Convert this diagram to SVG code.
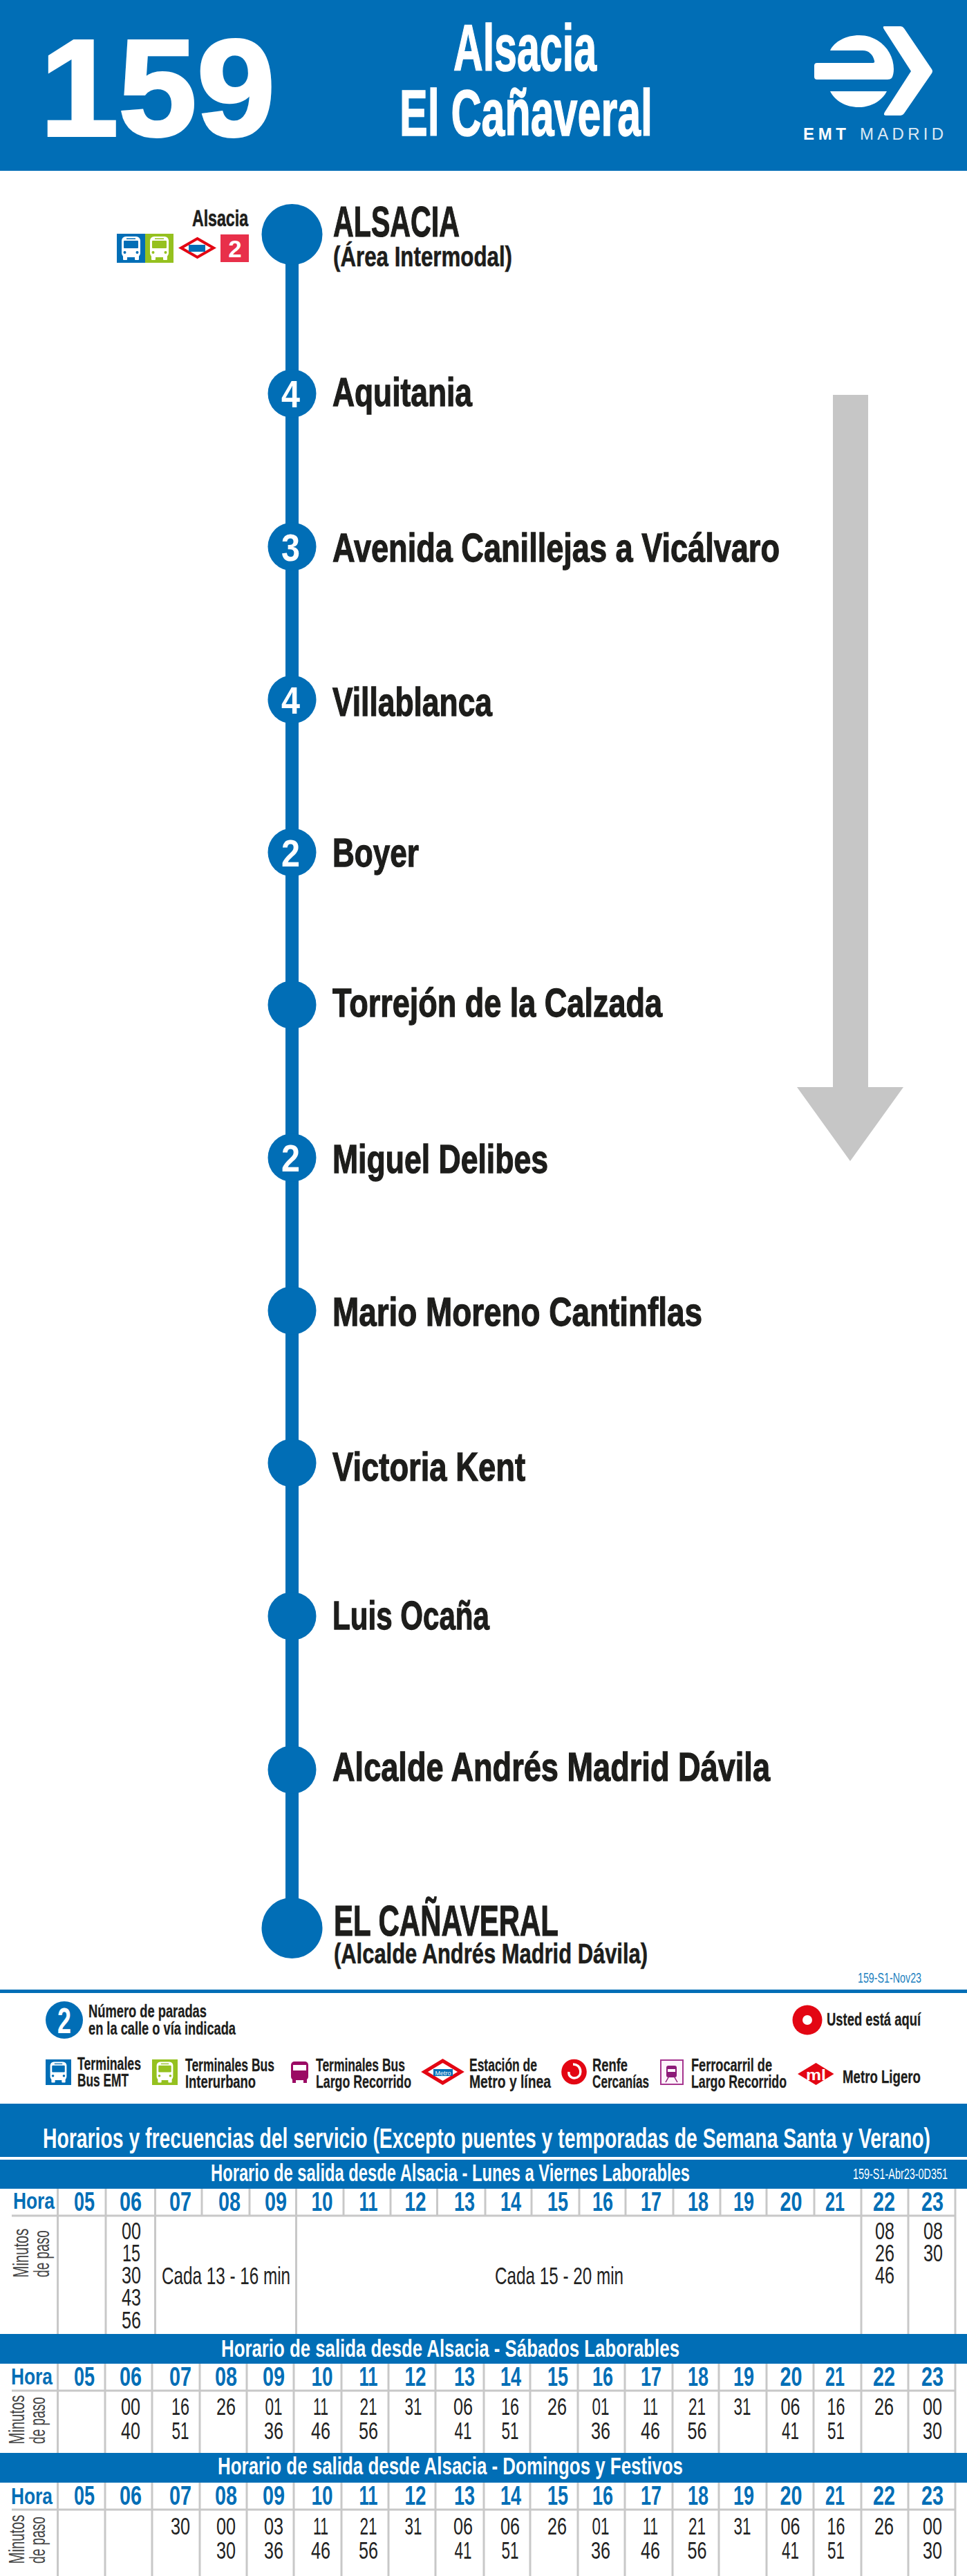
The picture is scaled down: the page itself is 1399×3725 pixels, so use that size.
<svg xmlns="http://www.w3.org/2000/svg" width="1399" height="3725" viewBox="0 0 1399 3725">
<style>
text{font-family:"Liberation Sans",Arial,sans-serif}
.b{font-weight:700}
.w{fill:#fff}
.k{fill:#1d1d1b}
.blue{fill:#016eb6}
.hvy{stroke:#1d1d1b;stroke-width:1.2px}
.hvyw{stroke:#fff;stroke-width:1.5px}
.st{font-weight:700;font-size:58px;fill:#1d1d1b;stroke:#1d1d1b;stroke-width:1.3px}
.n{font-weight:700;font-size:56px;fill:#fff;text-anchor:middle}
.lg{font-weight:700;font-size:25px;fill:#1d1d1b;stroke:#1d1d1b;stroke-width:.3px}
.band{font-weight:700;font-size:35px;fill:#fff}
.h{font-weight:700;font-size:38px;fill:#016eb6;text-anchor:middle}
.hora{font-weight:700;font-size:34px;fill:#016eb6}
.m{font-size:35px;fill:#222;text-anchor:middle}
.c{font-size:35px;fill:#222}
.mp{font-size:32px;fill:#444;text-anchor:middle}
.grid line{stroke:#c8c8c8;stroke-width:3}
.node{fill:#016eb6}
</style>
<defs>
<symbol id="bus" viewBox="0 0 41 42">
<rect x="7" y="4" width="27" height="30" rx="6" fill="#fff"/>
<rect x="9" y="30" width="6" height="8" rx="1" fill="#fff"/>
<rect x="26" y="30" width="6" height="8" rx="1" fill="#fff"/>
<rect x="10" y="10" width="21" height="11" rx="1" fill="currentColor"/>
<rect x="14" y="6.5" width="13" height="1.5" fill="currentColor"/>
<circle cx="11.5" cy="27" r="2" fill="currentColor"/>
<circle cx="29.5" cy="27" r="2" fill="currentColor"/>
</symbol>
</defs>
<rect width="1399" height="3725" fill="#fff"/>

<g id="header">
<rect width="1399" height="247" fill="#016eb6"/>
<text class="b w hvyw" x="58" y="196" font-size="198" textLength="340" lengthAdjust="spacingAndGlyphs" style="stroke-width:4px">159</text>
<text class="b w hvyw" x="656" y="102" font-size="95" textLength="207" lengthAdjust="spacingAndGlyphs">Alsacia</text>
<text class="b w hvyw" x="578" y="196" font-size="95" textLength="366" lengthAdjust="spacingAndGlyphs">El Cañaveral</text>
<g id="logo" fill="#fff">
<path d="M1279 38H1303Q1306 38 1308 41L1348 100Q1350 103 1348 106L1308 164Q1306 167 1303 167H1282Q1277 167 1280 162L1318 103L1280 44Q1276 38 1279 38Z"/>
<path d="M1201 73C1207 60 1224 51 1243 51C1271 51 1293 73 1293 100C1293 105 1292 110 1290 113Q1288 115 1284 115H1182Q1178 115 1178 111V95Q1178 91 1182 91H1263Q1266 91 1265 88C1263 79 1257 73 1248 73Z"/>
<path d="M1201 132H1283C1276 146 1260 155 1242 155C1224 155 1208 146 1201 132Z"/>
<text class="b w" x="1162" y="202" font-size="24" textLength="62" lengthAdjust="spacing">EMT</text>
<text class="w" x="1244" y="202" font-size="24" textLength="121" lengthAdjust="spacing" opacity=".85">MADRID</text>
</g>
</g>

<g id="connectors">
<line x1="422.5" y1="339" x2="422.5" y2="2788" stroke="#016eb6" stroke-width="19"/>
</g>

<g id="direction-arrow">
<polygon points="1205,571 1256,571 1256,1572 1307,1572 1230,1679 1153,1572 1205,1572" fill="#c6c6c6"/>
</g>

<g id="stop-alsacia">
<circle class="node" cx="422.5" cy="339" r="44"/>
<text class="b k hvy" x="482" y="342" font-size="63" textLength="183" lengthAdjust="spacingAndGlyphs">ALSACIA</text>
<text class="b k hvy" x="482" y="385" font-size="41" textLength="259" lengthAdjust="spacingAndGlyphs" style="stroke-width:.6px">(Área Intermodal)</text>
<text class="b k hvy" x="278" y="327" font-size="33" textLength="81" lengthAdjust="spacingAndGlyphs" style="stroke-width:.6px">Alsacia</text>
<rect x="169" y="338" width="41" height="42" fill="#016eb6"/>
<use href="#bus" x="169" y="338" width="41" height="42" style="color:#016eb6"/>
<rect x="210" y="338" width="41" height="42" fill="#95c11f"/>
<use href="#bus" x="210" y="338" width="41" height="42" style="color:#95c11f"/>
<polygon points="285.5,345 309,358.5 285.5,372 262,358.5" fill="#fff" stroke="#e30613" stroke-width="4"/>
<rect x="273" y="354" width="24" height="10" fill="#016eb6"/>
<rect x="319" y="339" width="41" height="40" fill="#e8304a"/>
<text class="b w" x="340" y="372" font-size="35" text-anchor="middle">2</text>
</g>

<g id="stop-aquitania"><circle class="node" cx="422.5" cy="569" r="35"/><text class="n" x="420.5" y="589" textLength="27" lengthAdjust="spacingAndGlyphs">4</text><text class="st" x="481" y="587" textLength="202" lengthAdjust="spacingAndGlyphs">Aquitania</text></g>
<g id="stop-canillejas"><circle class="node" cx="422.5" cy="790.5" r="35"/><text class="n" x="420.5" y="811" textLength="27" lengthAdjust="spacingAndGlyphs">3</text><text class="st" x="481" y="812" textLength="647" lengthAdjust="spacingAndGlyphs">Avenida Canillejas a Vicálvaro</text></g>
<g id="stop-villablanca"><circle class="node" cx="422.5" cy="1011.5" r="35"/><text class="n" x="420.5" y="1032" textLength="27" lengthAdjust="spacingAndGlyphs">4</text><text class="st" x="481" y="1035" textLength="231" lengthAdjust="spacingAndGlyphs">Villablanca</text></g>
<g id="stop-boyer"><circle class="node" cx="422.5" cy="1232.5" r="35"/><text class="n" x="420.5" y="1253" textLength="27" lengthAdjust="spacingAndGlyphs">2</text><text class="st" x="481" y="1253" textLength="125" lengthAdjust="spacingAndGlyphs">Boyer</text></g>
<g id="stop-torrejon"><circle class="node" cx="422.5" cy="1453" r="35"/><text class="st" x="481" y="1470" textLength="477" lengthAdjust="spacingAndGlyphs">Torrejón de la Calzada</text></g>
<g id="stop-delibes"><circle class="node" cx="422.5" cy="1674" r="35"/><text class="n" x="420.5" y="1694" textLength="27" lengthAdjust="spacingAndGlyphs">2</text><text class="st" x="481" y="1696" textLength="312" lengthAdjust="spacingAndGlyphs">Miguel Delibes</text></g>
<g id="stop-cantinflas"><circle class="node" cx="422.5" cy="1895" r="35"/><text class="st" x="481" y="1917" textLength="535" lengthAdjust="spacingAndGlyphs">Mario Moreno Cantinflas</text></g>
<g id="stop-kent"><circle class="node" cx="422.5" cy="2115.5" r="35"/><text class="st" x="481" y="2141" textLength="279" lengthAdjust="spacingAndGlyphs">Victoria Kent</text></g>
<g id="stop-ocana"><circle class="node" cx="422.5" cy="2337" r="35"/><text class="st" x="481" y="2356" textLength="227" lengthAdjust="spacingAndGlyphs">Luis Ocaña</text></g>
<g id="stop-davila"><circle class="node" cx="422.5" cy="2559" r="35"/><text class="st" x="481" y="2575" textLength="633" lengthAdjust="spacingAndGlyphs">Alcalde Andrés Madrid Dávila</text></g>
<g id="stop-canaveral">
<circle class="node" cx="422.5" cy="2788" r="44"/>
<text class="b k hvy" x="483" y="2799" font-size="63" textLength="325" lengthAdjust="spacingAndGlyphs">EL CAÑAVERAL</text>
<text class="b k hvy" x="483" y="2839" font-size="41" textLength="454" lengthAdjust="spacingAndGlyphs" style="stroke-width:.6px">(Alcalde Andrés Madrid Dávila)</text>
</g>

<g id="legend">
<text x="1241" y="2867" font-size="21" fill="#1b7fc0" textLength="92" lengthAdjust="spacingAndGlyphs">159-S1-Nov23</text>
<rect y="2877" width="1399" height="5" fill="#016eb6"/>
<circle class="node" cx="93" cy="2921" r="27"/>
<text class="b w" x="93" y="2940" font-size="52" text-anchor="middle" textLength="20" lengthAdjust="spacingAndGlyphs">2</text>
<text class="lg" x="128" y="2917" textLength="171" lengthAdjust="spacingAndGlyphs">Número de paradas</text>
<text class="lg" x="128" y="2942" textLength="213" lengthAdjust="spacingAndGlyphs">en la calle o vía indicada</text>
<circle cx="1168" cy="2921" r="21.5" fill="#e30613"/><circle cx="1168" cy="2921" r="7" fill="#fff"/>
<text class="lg" x="1196" y="2929" textLength="136" lengthAdjust="spacingAndGlyphs">Usted está aquí</text>

<rect x="66" y="2978" width="37" height="37" fill="#016eb6"/>
<use href="#bus" x="66" y="2978" width="37" height="37" style="color:#016eb6"/>
<text class="lg" x="112" y="2993" textLength="92" lengthAdjust="spacingAndGlyphs">Terminales</text>
<text class="lg" x="112" y="3017" textLength="74" lengthAdjust="spacingAndGlyphs">Bus EMT</text>

<rect x="220" y="2978" width="37" height="37" fill="#95c11f"/>
<use href="#bus" x="220" y="2978" width="37" height="37" style="color:#95c11f"/>
<text class="lg" x="268" y="2995" textLength="129" lengthAdjust="spacingAndGlyphs">Terminales Bus</text>
<text class="lg" x="268" y="3019" textLength="102" lengthAdjust="spacingAndGlyphs">Interurbano</text>

<rect x="421" y="2981" width="25" height="27" rx="5" fill="#9b0a64"/>
<rect x="423" y="3005" width="5" height="7" fill="#9b0a64"/><rect x="439" y="3005" width="5" height="7" fill="#9b0a64"/>
<rect x="424" y="2986" width="19" height="8" fill="#fff"/>
<text class="lg" x="457" y="2995" textLength="129" lengthAdjust="spacingAndGlyphs">Terminales Bus</text>
<text class="lg" x="457" y="3019" textLength="138" lengthAdjust="spacingAndGlyphs">Largo Recorrido</text>

<polygon points="640.5,2980 667,2996 640.5,3012 614,2996" fill="#fff" stroke="#e30613" stroke-width="5"/>
<rect x="627" y="2992" width="28" height="10" fill="#016eb6"/>
<text class="w" x="641" y="3000.5" font-size="9" text-anchor="middle">Metro</text>
<text class="lg" x="679" y="2995" textLength="98" lengthAdjust="spacingAndGlyphs">Estación de</text>
<text class="lg" x="679" y="3019" textLength="118" lengthAdjust="spacingAndGlyphs">Metro y línea</text>

<circle cx="830.5" cy="2996" r="18.3" fill="#e30613"/>
<path d="M829 2985C841 2985 843 3000 835 3004C828 3007 822 3002 823 2996" fill="none" stroke="#fff" stroke-width="3.5"/>
<text class="lg" x="857" y="2995" textLength="51" lengthAdjust="spacingAndGlyphs">Renfe</text>
<text class="lg" x="857" y="3019" textLength="82" lengthAdjust="spacingAndGlyphs">Cercanías</text>

<rect x="956" y="2979" width="32" height="35" fill="#fdf3fa" stroke="#a6358f" stroke-width="2"/>
<rect x="964" y="2987" width="15" height="17" rx="3" fill="#8d1a78"/>
<rect x="966" y="2992" width="11" height="4" fill="#fff"/>
<path d="M967 3004L963 3011M976 3004L980 3011" stroke="#8d1a78" stroke-width="1.5" fill="none"/>
<text class="lg" x="1000" y="2995" textLength="117" lengthAdjust="spacingAndGlyphs">Ferrocarril de</text>
<text class="lg" x="1000" y="3019" textLength="138" lengthAdjust="spacingAndGlyphs">Largo Recorrido</text>

<polygon points="1154,2999 1180.5,2983 1206.5,2999 1180.5,3015" fill="#e30613"/>
<text class="b w" x="1166" y="3008" font-size="22" textLength="29" lengthAdjust="spacingAndGlyphs">ml</text>
<text class="lg" x="1219" y="3012" textLength="113" lengthAdjust="spacingAndGlyphs">Metro Ligero</text>
</g>

<g id="bands">
<rect y="3042" width="1399" height="77" fill="#016eb6"/>
<rect y="3123" width="1399" height="42" fill="#016eb6"/>
<rect y="3375" width="1399" height="43" fill="#016eb6"/>
<rect y="3547" width="1399" height="43" fill="#016eb6"/>
<text class="b w" x="62" y="3106" font-size="40" textLength="1284" lengthAdjust="spacingAndGlyphs">Horarios y frecuencias del servicio (Excepto puentes y temporadas de Semana Santa y Verano)</text>
<text class="band" x="305" y="3154" textLength="693" lengthAdjust="spacingAndGlyphs">Horario de salida desde Alsacia - Lunes a Viernes Laborables</text>
<text class="w" x="1234" y="3151" font-size="22" textLength="137" lengthAdjust="spacingAndGlyphs">159-S1-Abr23-0D351</text>
<text class="band" x="320" y="3408" textLength="663" lengthAdjust="spacingAndGlyphs">Horario de salida desde Alsacia - Sábados Laborables</text>
<text class="band" x="315" y="3578" textLength="673" lengthAdjust="spacingAndGlyphs">Horario de salida desde Alsacia - Domingos y Festivos</text>
</g>

<g id="grid" class="grid">
<line x1="17" y1="3204" x2="1382" y2="3204" stroke-width="3"/>
<line x1="83.5" y1="3165" x2="83.5" y2="3375"/><line x1="153" y1="3165" x2="153" y2="3375"/><line x1="224.5" y1="3165" x2="224.5" y2="3375"/><line x1="292" y1="3165" x2="292" y2="3204"/><line x1="361" y1="3165" x2="361" y2="3204"/><line x1="428.5" y1="3165" x2="428.5" y2="3375"/><line x1="497" y1="3165" x2="497" y2="3204"/><line x1="565" y1="3165" x2="565" y2="3204"/><line x1="632.5" y1="3165" x2="632.5" y2="3204"/><line x1="702" y1="3165" x2="702" y2="3204"/><line x1="769" y1="3165" x2="769" y2="3204"/><line x1="838" y1="3165" x2="838" y2="3204"/><line x1="905" y1="3165" x2="905" y2="3204"/><line x1="974" y1="3165" x2="974" y2="3204"/><line x1="1042" y1="3165" x2="1042" y2="3204"/><line x1="1109" y1="3165" x2="1109" y2="3204"/><line x1="1178" y1="3165" x2="1178" y2="3204"/><line x1="1246" y1="3165" x2="1246" y2="3375"/><line x1="1314" y1="3165" x2="1314" y2="3375"/><line x1="1382" y1="3165" x2="1382" y2="3375"/>

<line x1="17" y1="3457" x2="1382" y2="3457"/>
<line x1="83.5" y1="3418" x2="83.5" y2="3547"/><line x1="152" y1="3418" x2="152" y2="3547"/><line x1="220" y1="3418" x2="220" y2="3547"/><line x1="289" y1="3418" x2="289" y2="3547"/><line x1="357" y1="3418" x2="357" y2="3547"/><line x1="425" y1="3418" x2="425" y2="3547"/><line x1="494" y1="3418" x2="494" y2="3547"/><line x1="562" y1="3418" x2="562" y2="3547"/><line x1="630" y1="3418" x2="630" y2="3547"/><line x1="700" y1="3418" x2="700" y2="3547"/><line x1="767" y1="3418" x2="767" y2="3547"/><line x1="836" y1="3418" x2="836" y2="3547"/><line x1="904" y1="3418" x2="904" y2="3547"/><line x1="973" y1="3418" x2="973" y2="3547"/><line x1="1040" y1="3418" x2="1040" y2="3547"/><line x1="1109" y1="3418" x2="1109" y2="3547"/><line x1="1177" y1="3418" x2="1177" y2="3547"/><line x1="1246" y1="3418" x2="1246" y2="3547"/><line x1="1314" y1="3418" x2="1314" y2="3547"/><line x1="1382" y1="3418" x2="1382" y2="3547"/>

<line x1="17" y1="3629" x2="1382" y2="3629"/>
<line x1="83.5" y1="3590" x2="83.5" y2="3725"/><line x1="152" y1="3590" x2="152" y2="3725"/><line x1="220" y1="3590" x2="220" y2="3725"/><line x1="289" y1="3590" x2="289" y2="3725"/><line x1="357" y1="3590" x2="357" y2="3725"/><line x1="425" y1="3590" x2="425" y2="3725"/><line x1="494" y1="3590" x2="494" y2="3725"/><line x1="562" y1="3590" x2="562" y2="3725"/><line x1="630" y1="3590" x2="630" y2="3725"/><line x1="700" y1="3590" x2="700" y2="3725"/><line x1="767" y1="3590" x2="767" y2="3725"/><line x1="836" y1="3590" x2="836" y2="3725"/><line x1="904" y1="3590" x2="904" y2="3725"/><line x1="973" y1="3590" x2="973" y2="3725"/><line x1="1040" y1="3590" x2="1040" y2="3725"/><line x1="1109" y1="3590" x2="1109" y2="3725"/><line x1="1177" y1="3590" x2="1177" y2="3725"/><line x1="1246" y1="3590" x2="1246" y2="3725"/><line x1="1314" y1="3590" x2="1314" y2="3725"/><line x1="1382" y1="3590" x2="1382" y2="3725"/>
</g>

<g id="timetable-weekdays">
<text class="hora" x="19" y="3194" textLength="60" lengthAdjust="spacingAndGlyphs">Hora</text>
<text class="h" x="122" y="3197" textLength="30" lengthAdjust="spacingAndGlyphs">05</text><text class="h" x="189" y="3197" textLength="32" lengthAdjust="spacingAndGlyphs">06</text><text class="h" x="261" y="3197" textLength="32" lengthAdjust="spacingAndGlyphs">07</text><text class="h" x="332" y="3197" textLength="32" lengthAdjust="spacingAndGlyphs">08</text><text class="h" x="399" y="3197" textLength="32" lengthAdjust="spacingAndGlyphs">09</text><text class="h" x="466" y="3197" textLength="31" lengthAdjust="spacingAndGlyphs">10</text><text class="h" x="533" y="3197" textLength="27" lengthAdjust="spacingAndGlyphs">11</text><text class="h" x="601" y="3197" textLength="31" lengthAdjust="spacingAndGlyphs">12</text><text class="h" x="672" y="3197" textLength="30" lengthAdjust="spacingAndGlyphs">13</text><text class="h" x="739" y="3197" textLength="30" lengthAdjust="spacingAndGlyphs">14</text><text class="h" x="807" y="3197" textLength="30" lengthAdjust="spacingAndGlyphs">15</text><text class="h" x="872" y="3197" textLength="30" lengthAdjust="spacingAndGlyphs">16</text><text class="h" x="942" y="3197" textLength="30" lengthAdjust="spacingAndGlyphs">17</text><text class="h" x="1010" y="3197" textLength="30" lengthAdjust="spacingAndGlyphs">18</text><text class="h" x="1076" y="3197" textLength="30" lengthAdjust="spacingAndGlyphs">19</text><text class="h" x="1144.5" y="3197" textLength="32" lengthAdjust="spacingAndGlyphs">20</text><text class="h" x="1208" y="3197" textLength="28" lengthAdjust="spacingAndGlyphs">21</text><text class="h" x="1279" y="3197" textLength="32" lengthAdjust="spacingAndGlyphs">22</text><text class="h" x="1349" y="3197" textLength="32" lengthAdjust="spacingAndGlyphs">23</text>
<text class="mp" transform="translate(41 3258) rotate(-90)" textLength="71" lengthAdjust="spacingAndGlyphs">Minutos</text>
<text class="mp" transform="translate(71 3259) rotate(-90)" textLength="68" lengthAdjust="spacingAndGlyphs">de paso</text>
<text class="m" x="190" y="3238" textLength="28" lengthAdjust="spacingAndGlyphs">00</text><text class="m" x="190" y="3270" textLength="26" lengthAdjust="spacingAndGlyphs">15</text><text class="m" x="190" y="3302" textLength="28" lengthAdjust="spacingAndGlyphs">30</text><text class="m" x="190" y="3334" textLength="28" lengthAdjust="spacingAndGlyphs">43</text><text class="m" x="190" y="3367" textLength="28" lengthAdjust="spacingAndGlyphs">56</text>
<text class="c" x="234" y="3303" textLength="186" lengthAdjust="spacingAndGlyphs">Cada 13 - 16 min</text>
<text class="c" x="716" y="3303" textLength="186" lengthAdjust="spacingAndGlyphs">Cada 15 - 20 min</text>
<text class="m" x="1280" y="3238" textLength="28" lengthAdjust="spacingAndGlyphs">08</text><text class="m" x="1280" y="3270" textLength="28" lengthAdjust="spacingAndGlyphs">26</text><text class="m" x="1280" y="3302" textLength="28" lengthAdjust="spacingAndGlyphs">46</text>
<text class="m" x="1350" y="3238" textLength="28" lengthAdjust="spacingAndGlyphs">08</text><text class="m" x="1350" y="3270" textLength="28" lengthAdjust="spacingAndGlyphs">30</text>
</g>

<g id="timetable-saturdays">
<text class="hora" x="16" y="3448" textLength="60" lengthAdjust="spacingAndGlyphs">Hora</text>
<text class="h" x="122" y="3450" textLength="30" lengthAdjust="spacingAndGlyphs">05</text><text class="h" x="189" y="3450" textLength="32" lengthAdjust="spacingAndGlyphs">06</text><text class="h" x="261" y="3450" textLength="32" lengthAdjust="spacingAndGlyphs">07</text><text class="h" x="327" y="3450" textLength="32" lengthAdjust="spacingAndGlyphs">08</text><text class="h" x="396" y="3450" textLength="32" lengthAdjust="spacingAndGlyphs">09</text><text class="h" x="466" y="3450" textLength="31" lengthAdjust="spacingAndGlyphs">10</text><text class="h" x="533" y="3450" textLength="27" lengthAdjust="spacingAndGlyphs">11</text><text class="h" x="601" y="3450" textLength="31" lengthAdjust="spacingAndGlyphs">12</text><text class="h" x="672" y="3450" textLength="30" lengthAdjust="spacingAndGlyphs">13</text><text class="h" x="739" y="3450" textLength="30" lengthAdjust="spacingAndGlyphs">14</text><text class="h" x="807" y="3450" textLength="30" lengthAdjust="spacingAndGlyphs">15</text><text class="h" x="872" y="3450" textLength="30" lengthAdjust="spacingAndGlyphs">16</text><text class="h" x="942" y="3450" textLength="30" lengthAdjust="spacingAndGlyphs">17</text><text class="h" x="1010" y="3450" textLength="30" lengthAdjust="spacingAndGlyphs">18</text><text class="h" x="1076" y="3450" textLength="30" lengthAdjust="spacingAndGlyphs">19</text><text class="h" x="1144.5" y="3450" textLength="32" lengthAdjust="spacingAndGlyphs">20</text><text class="h" x="1208" y="3450" textLength="28" lengthAdjust="spacingAndGlyphs">21</text><text class="h" x="1279" y="3450" textLength="32" lengthAdjust="spacingAndGlyphs">22</text><text class="h" x="1349" y="3450" textLength="32" lengthAdjust="spacingAndGlyphs">23</text>
<text class="mp" transform="translate(35 3499) rotate(-90)" textLength="71" lengthAdjust="spacingAndGlyphs">Minutos</text>
<text class="mp" transform="translate(65 3500) rotate(-90)" textLength="68" lengthAdjust="spacingAndGlyphs">de paso</text>
<text class="m" x="189" y="3492" textLength="28" lengthAdjust="spacingAndGlyphs">00</text><text class="m" x="189" y="3527" textLength="28" lengthAdjust="spacingAndGlyphs">40</text>
<text class="m" x="261" y="3492" textLength="26" lengthAdjust="spacingAndGlyphs">16</text><text class="m" x="261" y="3527" textLength="25" lengthAdjust="spacingAndGlyphs">51</text>
<text class="m" x="327" y="3492" textLength="28" lengthAdjust="spacingAndGlyphs">26</text>
<text class="m" x="396" y="3492" textLength="25" lengthAdjust="spacingAndGlyphs">01</text><text class="m" x="396" y="3527" textLength="28" lengthAdjust="spacingAndGlyphs">36</text>
<text class="m" x="464" y="3492" textLength="22" lengthAdjust="spacingAndGlyphs">11</text><text class="m" x="464" y="3527" textLength="28" lengthAdjust="spacingAndGlyphs">46</text>
<text class="m" x="533" y="3492" textLength="25" lengthAdjust="spacingAndGlyphs">21</text><text class="m" x="533" y="3527" textLength="28" lengthAdjust="spacingAndGlyphs">56</text>
<text class="m" x="598" y="3492" textLength="25" lengthAdjust="spacingAndGlyphs">31</text>
<text class="m" x="670" y="3492" textLength="28" lengthAdjust="spacingAndGlyphs">06</text><text class="m" x="670" y="3527" textLength="25" lengthAdjust="spacingAndGlyphs">41</text>
<text class="m" x="738" y="3492" textLength="26" lengthAdjust="spacingAndGlyphs">16</text><text class="m" x="738" y="3527" textLength="25" lengthAdjust="spacingAndGlyphs">51</text>
<text class="m" x="806" y="3492" textLength="28" lengthAdjust="spacingAndGlyphs">26</text>
<text class="m" x="869" y="3492" textLength="25" lengthAdjust="spacingAndGlyphs">01</text><text class="m" x="869" y="3527" textLength="28" lengthAdjust="spacingAndGlyphs">36</text>
<text class="m" x="941" y="3492" textLength="22" lengthAdjust="spacingAndGlyphs">11</text><text class="m" x="941" y="3527" textLength="28" lengthAdjust="spacingAndGlyphs">46</text>
<text class="m" x="1008.5" y="3492" textLength="25" lengthAdjust="spacingAndGlyphs">21</text><text class="m" x="1008.5" y="3527" textLength="28" lengthAdjust="spacingAndGlyphs">56</text>
<text class="m" x="1074" y="3492" textLength="25" lengthAdjust="spacingAndGlyphs">31</text>
<text class="m" x="1143.5" y="3492" textLength="28" lengthAdjust="spacingAndGlyphs">06</text><text class="m" x="1143.5" y="3527" textLength="25" lengthAdjust="spacingAndGlyphs">41</text>
<text class="m" x="1209.5" y="3492" textLength="26" lengthAdjust="spacingAndGlyphs">16</text><text class="m" x="1209.5" y="3527" textLength="25" lengthAdjust="spacingAndGlyphs">51</text>
<text class="m" x="1279" y="3492" textLength="28" lengthAdjust="spacingAndGlyphs">26</text>
<text class="m" x="1349" y="3492" textLength="28" lengthAdjust="spacingAndGlyphs">00</text><text class="m" x="1349" y="3527" textLength="28" lengthAdjust="spacingAndGlyphs">30</text>
</g>

<g id="timetable-sundays">
<text class="hora" x="16" y="3621" textLength="60" lengthAdjust="spacingAndGlyphs">Hora</text>
<text class="h" x="122" y="3622" textLength="30" lengthAdjust="spacingAndGlyphs">05</text><text class="h" x="189" y="3622" textLength="32" lengthAdjust="spacingAndGlyphs">06</text><text class="h" x="261" y="3622" textLength="32" lengthAdjust="spacingAndGlyphs">07</text><text class="h" x="327" y="3622" textLength="32" lengthAdjust="spacingAndGlyphs">08</text><text class="h" x="396" y="3622" textLength="32" lengthAdjust="spacingAndGlyphs">09</text><text class="h" x="466" y="3622" textLength="31" lengthAdjust="spacingAndGlyphs">10</text><text class="h" x="533" y="3622" textLength="27" lengthAdjust="spacingAndGlyphs">11</text><text class="h" x="601" y="3622" textLength="31" lengthAdjust="spacingAndGlyphs">12</text><text class="h" x="672" y="3622" textLength="30" lengthAdjust="spacingAndGlyphs">13</text><text class="h" x="739" y="3622" textLength="30" lengthAdjust="spacingAndGlyphs">14</text><text class="h" x="807" y="3622" textLength="30" lengthAdjust="spacingAndGlyphs">15</text><text class="h" x="872" y="3622" textLength="30" lengthAdjust="spacingAndGlyphs">16</text><text class="h" x="942" y="3622" textLength="30" lengthAdjust="spacingAndGlyphs">17</text><text class="h" x="1010" y="3622" textLength="30" lengthAdjust="spacingAndGlyphs">18</text><text class="h" x="1076" y="3622" textLength="30" lengthAdjust="spacingAndGlyphs">19</text><text class="h" x="1144.5" y="3622" textLength="32" lengthAdjust="spacingAndGlyphs">20</text><text class="h" x="1208" y="3622" textLength="28" lengthAdjust="spacingAndGlyphs">21</text><text class="h" x="1279" y="3622" textLength="32" lengthAdjust="spacingAndGlyphs">22</text><text class="h" x="1349" y="3622" textLength="32" lengthAdjust="spacingAndGlyphs">23</text>
<text class="mp" transform="translate(35 3672) rotate(-90)" textLength="71" lengthAdjust="spacingAndGlyphs">Minutos</text>
<text class="mp" transform="translate(65 3673) rotate(-90)" textLength="68" lengthAdjust="spacingAndGlyphs">de paso</text>
<text class="m" x="261" y="3665" textLength="28" lengthAdjust="spacingAndGlyphs">30</text>
<text class="m" x="327" y="3665" textLength="28" lengthAdjust="spacingAndGlyphs">00</text><text class="m" x="327" y="3700" textLength="28" lengthAdjust="spacingAndGlyphs">30</text>
<text class="m" x="396" y="3665" textLength="28" lengthAdjust="spacingAndGlyphs">03</text><text class="m" x="396" y="3700" textLength="28" lengthAdjust="spacingAndGlyphs">36</text>
<text class="m" x="464" y="3665" textLength="22" lengthAdjust="spacingAndGlyphs">11</text><text class="m" x="464" y="3700" textLength="28" lengthAdjust="spacingAndGlyphs">46</text>
<text class="m" x="533" y="3665" textLength="25" lengthAdjust="spacingAndGlyphs">21</text><text class="m" x="533" y="3700" textLength="28" lengthAdjust="spacingAndGlyphs">56</text>
<text class="m" x="598" y="3665" textLength="25" lengthAdjust="spacingAndGlyphs">31</text>
<text class="m" x="670" y="3665" textLength="28" lengthAdjust="spacingAndGlyphs">06</text><text class="m" x="670" y="3700" textLength="25" lengthAdjust="spacingAndGlyphs">41</text>
<text class="m" x="738" y="3665" textLength="28" lengthAdjust="spacingAndGlyphs">06</text><text class="m" x="738" y="3700" textLength="25" lengthAdjust="spacingAndGlyphs">51</text>
<text class="m" x="806" y="3665" textLength="28" lengthAdjust="spacingAndGlyphs">26</text>
<text class="m" x="869" y="3665" textLength="25" lengthAdjust="spacingAndGlyphs">01</text><text class="m" x="869" y="3700" textLength="28" lengthAdjust="spacingAndGlyphs">36</text>
<text class="m" x="941" y="3665" textLength="22" lengthAdjust="spacingAndGlyphs">11</text><text class="m" x="941" y="3700" textLength="28" lengthAdjust="spacingAndGlyphs">46</text>
<text class="m" x="1008.5" y="3665" textLength="25" lengthAdjust="spacingAndGlyphs">21</text><text class="m" x="1008.5" y="3700" textLength="28" lengthAdjust="spacingAndGlyphs">56</text>
<text class="m" x="1074" y="3665" textLength="25" lengthAdjust="spacingAndGlyphs">31</text>
<text class="m" x="1143.5" y="3665" textLength="28" lengthAdjust="spacingAndGlyphs">06</text><text class="m" x="1143.5" y="3700" textLength="25" lengthAdjust="spacingAndGlyphs">41</text>
<text class="m" x="1209.5" y="3665" textLength="26" lengthAdjust="spacingAndGlyphs">16</text><text class="m" x="1209.5" y="3700" textLength="25" lengthAdjust="spacingAndGlyphs">51</text>
<text class="m" x="1279" y="3665" textLength="28" lengthAdjust="spacingAndGlyphs">26</text>
<text class="m" x="1349" y="3665" textLength="28" lengthAdjust="spacingAndGlyphs">00</text><text class="m" x="1349" y="3700" textLength="28" lengthAdjust="spacingAndGlyphs">30</text>
</g>
</svg>
